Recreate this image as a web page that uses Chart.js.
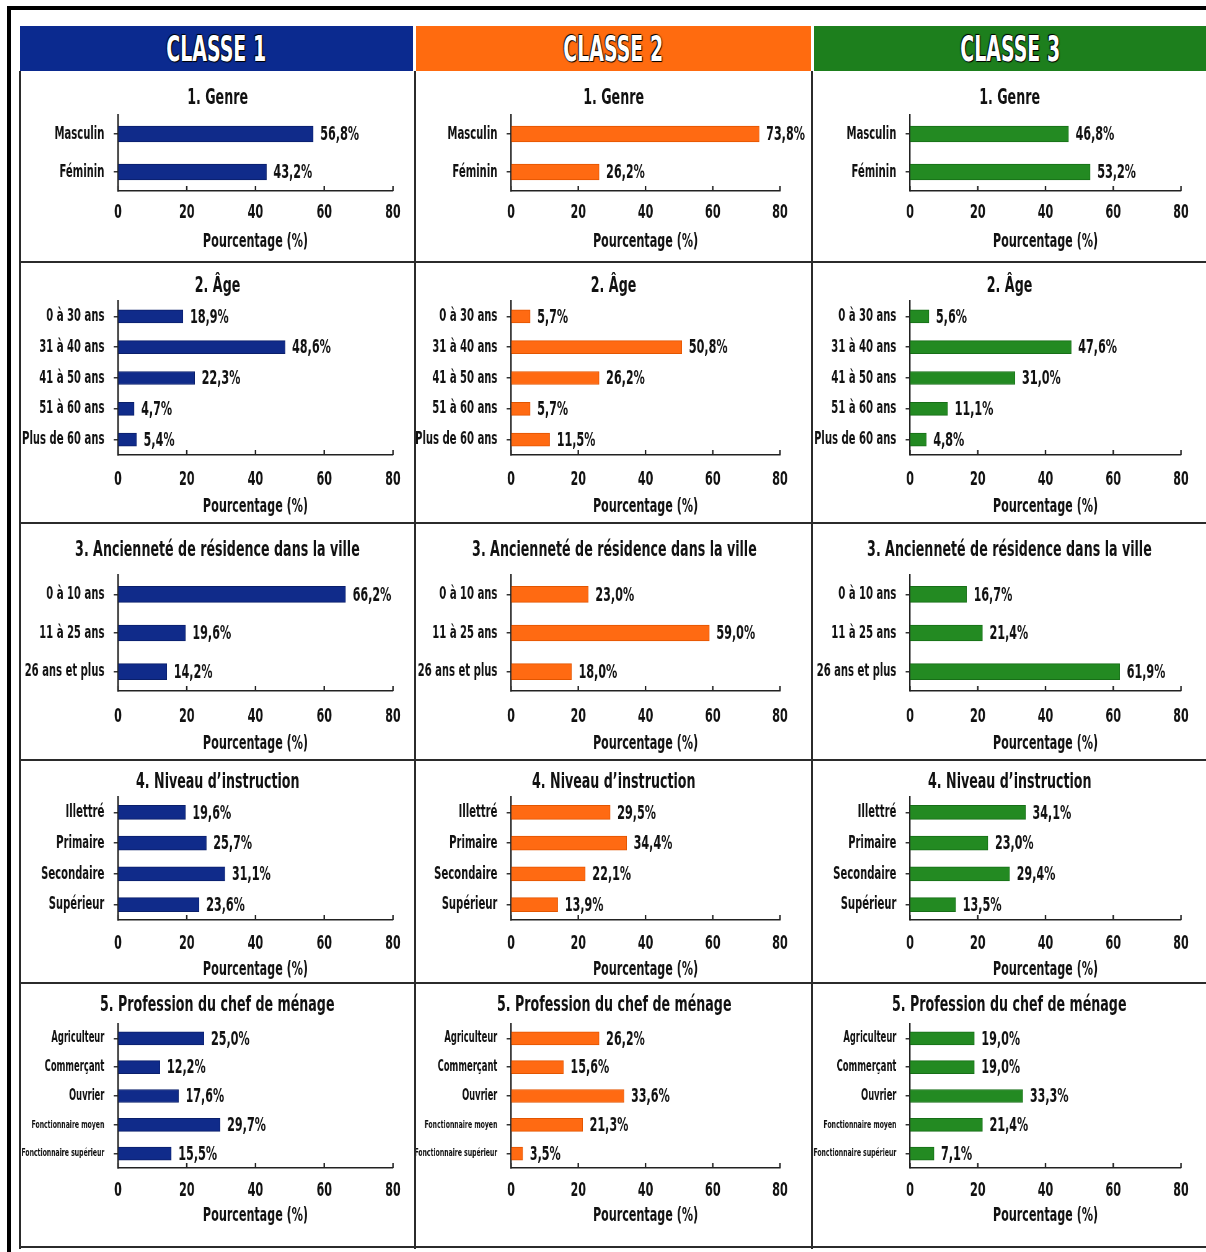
<!DOCTYPE html>
<html>
<head>
<meta charset="utf-8">
<script src="https://cdn.jsdelivr.net/npm/chart.js@4.4.1/dist/chart.umd.min.js"></script>
<style>
  body { margin: 0; background: #fff; width: 1206px; height: 1252px; overflow: hidden; position: relative; }
  .abs { position: absolute; }
  .head { position: absolute; top: 26px; height: 45px; line-height: 46px; text-align: center; color: #fff;
    font-family: "DejaVu Sans Condensed", "DejaVu Sans", sans-serif; font-weight: bold; font-size: 36px; }
  .head span { display: inline-block; transform: scaleX(0.585);
    text-shadow: 0 0 2px #000, 1px 1px 1px #000, -1px -1px 1px #000; }
  .cell { position: absolute; }
  .cell canvas { position: absolute; left: 0; top: 0; transform-origin: 0 0; }
  .ptitle { position: absolute; left: -150px; right: -150px; text-align: center; color: #111;
    font-family: "DejaVu Sans Condensed", "DejaVu Sans", sans-serif; font-weight: bold; font-size: 22px; line-height: 24px; }
  .ptitle span { display: inline-block; transform: scaleX(0.64); white-space: nowrap; }
  .line { position: absolute; background: #2b2b2b; }
</style>
</head>
<body>
<div class="abs" style="left:7px;top:6px;width:1199px;height:4px;background:#000"></div>
<div class="abs" style="left:7px;top:6px;width:4px;height:1246px;background:#000"></div>
<div id="grid"></div>
<script>
const FONT = '"DejaVu Sans Condensed", "DejaVu Sans", sans-serif';
const K = 0.62; // horizontal squeeze of each chart canvas, gives the tall narrow lettering

const classes = ['CLASSE 1', 'CLASSE 2', 'CLASSE 3'];
const panelTitles = ['1. Genre', '2. Âge', '3. Ancienneté de résidence dans la ville', '4. Niveau d’instruction', '5. Profession du chef de ménage'];
const xTicks = [0, 20, 40, 60, 80];

const genreLabels = ['Masculin', 'Féminin'];
const genreValues = [[56.8, 43.2], [73.8, 26.2], [46.8, 53.2]];

const ageLabels = ['0 à 30 ans', '31 à 40 ans', '41 à 50 ans', '51 à 60 ans', 'Plus de 60 ans'];
const ageValues = [[18.9, 48.6, 22.3, 4.7, 5.4], [5.7, 50.8, 26.2, 5.7, 11.5], [5.6, 47.6, 31.0, 11.1, 4.8]];

const residenceLabels = ['0 à 10 ans', '11 à 25 ans', '26 ans et plus'];
const residenceValues = [[66.2, 19.6, 14.2], [23.0, 59.0, 18.0], [16.7, 21.4, 61.9]];

const instructionLabels = ['Illettré', 'Primaire', 'Secondaire', 'Supérieur'];
const instructionValues = [[19.6, 25.7, 31.1, 23.6], [29.5, 34.4, 22.1, 13.9], [34.1, 23.0, 29.4, 13.5]];

const professionLabels = ['Agriculteur', 'Commerçant', 'Ouvrier', 'Fonctionnaire moyen', 'Fonctionnaire supérieur'];
const professionValues = [[25.0, 12.2, 17.6, 29.7, 15.5], [26.2, 15.6, 33.6, 21.3, 3.5], [19.0, 19.0, 33.3, 21.4, 7.1]];

const rowLabels = [genreLabels, ageLabels, residenceLabels, instructionLabels, professionLabels];
const rowValues = [genreValues, ageValues, residenceValues, instructionValues, professionValues];

const classColors = ['#102b8a', '#ff6a12', '#238a22'];
const classBorders = ['#0a1f6a', '#e25500', '#176e17'];
const headColors = ['#0b2a8f', '#ff6b0f', '#1d7f1d'];

const TICK = 20, VAL = 20, XT = 20;

// layout (pixels inside each cell)
const rowY = [72, 262, 523, 760, 983];
const rowGeom = [
  { h: 190, titleY: 25, top: 43, bottom: 119, tickY: 141, xTitleY: 170, bar: 16, font: 18 },
  { h: 261, titleY: 23, top: 39, bottom: 193, tickY: 218, xTitleY: 245, bar: 13, font: 18 },
  { h: 237, titleY: 26, top: 52, bottom: 168, tickY: 194, xTitleY: 221, bar: 16, font: 18 },
  { h: 223, titleY: 21, top: 37, bottom: 160, tickY: 184, xTitleY: 210, bar: 14, font: 18 },
  { h: 265, titleY: 21, top: 41, bottom: 185, tickY: 208, xTitleY: 233, bar: 13, font: 15 }
];
const colGeom = [
  { x: 20, w: 395, left: 98, plot: 275, hx: 20, hw: 393 },
  { x: 416, w: 396, left: 95, plot: 269, hx: 416, hw: 395 },
  { x: 813, w: 393, left: 97, plot: 271, hx: 814, hw: 392 }
];

const fmt = v => v.toFixed(1).replace('.', ',') + '%';

const valueLabels = {
  id: 'valueLabels',
  afterDatasetsDraw(chart) {
    const ctx = chart.ctx;
    const vals = chart.data.datasets[0].data;
    ctx.save();
    ctx.font = 'bold ' + VAL + 'px ' + FONT;
    ctx.fillStyle = '#111';
    ctx.textBaseline = 'middle';
    ctx.textAlign = 'left';
    chart.getDatasetMeta(0).data.forEach((bar, i) => {
      ctx.fillText(fmt(vals[i]), bar.x + 7 / K, bar.y + 1);
    });
    ctx.restore();
  }
};

// small tick marks pointing up into the plot
const innerTicks = {
  id: 'innerTicks',
  afterDraw(chart) {
    const ctx = chart.ctx, s = chart.scales.x, y = chart.chartArea.bottom;
    ctx.save();
    ctx.strokeStyle = '#222';
    ctx.lineWidth = 1.5 / K;
    s.ticks.forEach(t => {
      const x = s.getPixelForValue(t.value);
      ctx.beginPath(); ctx.moveTo(x, y); ctx.lineTo(x, y - 5); ctx.stroke();
    });
    ctx.restore();
  }
};

const grid = document.getElementById('grid');

classes.forEach((name, c) => {
  const col = colGeom[c];
  const hd = document.createElement('div');
  hd.className = 'head';
  hd.style.left = col.hx + 'px';
  hd.style.width = col.hw + 'px';
  hd.style.background = headColors[c];
  hd.innerHTML = '<span>' + name + '</span>';
  grid.appendChild(hd);

  rowGeom.forEach((g, r) => {
    const cell = document.createElement('div');
    cell.className = 'cell';
    cell.style.left = col.x + 'px';
    cell.style.top = rowY[r] + 'px';
    cell.style.width = col.w + 'px';
    cell.style.height = g.h + 'px';
    const t = document.createElement('div');
    t.className = 'ptitle';
    t.style.top = (g.titleY - 12) + 'px';
    t.innerHTML = '<span>' + panelTitles[r] + '</span>';
    const cv = document.createElement('canvas');
    cv.width = Math.round(col.w / K);
    cv.height = g.h;
    cv.style.transform = 'scaleX(' + K + ')';
    cell.appendChild(cv);
    cell.appendChild(t);
    grid.appendChild(cell);

    new Chart(cv, {
      type: 'bar',
      data: {
        labels: rowLabels[r],
        datasets: [{
          data: rowValues[r][c],
          backgroundColor: classColors[c],
          borderColor: classBorders[c],
          borderWidth: 1,
          barThickness: g.bar
        }]
      },
      options: {
        indexAxis: 'y',
        responsive: false,
        animation: false,
        layout: { padding: { left: 0, right: cv.width - (col.left + col.plot) / K, top: g.top, bottom: 0 } },
        plugins: { legend: { display: false }, tooltip: { enabled: false } },
        scales: {
          x: {
            min: 0, max: 80,
            afterBuildTicks: s => { s.ticks = xTicks.map(v => ({ value: v })); },
            ticks: { padding: g.tickY - g.bottom - 0.6 * TICK, color: '#111', font: { family: FONT, size: TICK, weight: 'bold' } },
            grid: { drawOnChartArea: false, drawTicks: false },
            border: { color: '#222', width: 1.5 },
            title: {
              display: true, text: 'Pourcentage (%)', color: '#111',
              font: { family: FONT, size: XT, weight: 'bold' },
              padding: { top: 0, bottom: g.h - g.xTitleY - 0.6 * XT }
            },
            afterFit: s => { s.height = g.h - g.bottom; }
          },
          y: {
            ticks: {
              autoSkip: false, padding: 15, color: '#111',
              font: ctx => ({ family: FONT, weight: 'bold', size: (r === 4 && ctx.index >= 3) ? 11 : g.font })
            },
            grid: { offset: false, drawOnChartArea: false, drawTicks: true, tickLength: 7, color: '#333', lineWidth: 1.5 },
            border: { color: '#222', width: 2.4 },
            afterFit: s => { s.width = col.left / K; }
          }
        }
      },
      plugins: [valueLabels, innerTicks]
    });
  });
});

// cell borders
[262, 523, 760, 983, 1247].forEach(y => {
  const d = document.createElement('div');
  d.className = 'line';
  Object.assign(d.style, { left: '20px', top: (y - 1) + 'px', width: '1186px', height: '2px' });
  grid.appendChild(d);
});
[20, 415, 812].forEach(x => {
  const d = document.createElement('div');
  d.className = 'line';
  Object.assign(d.style, { left: (x - 1) + 'px', top: '71px', width: '2px', height: '1178px' });
  grid.appendChild(d);
});
</script>
</body>
</html>
